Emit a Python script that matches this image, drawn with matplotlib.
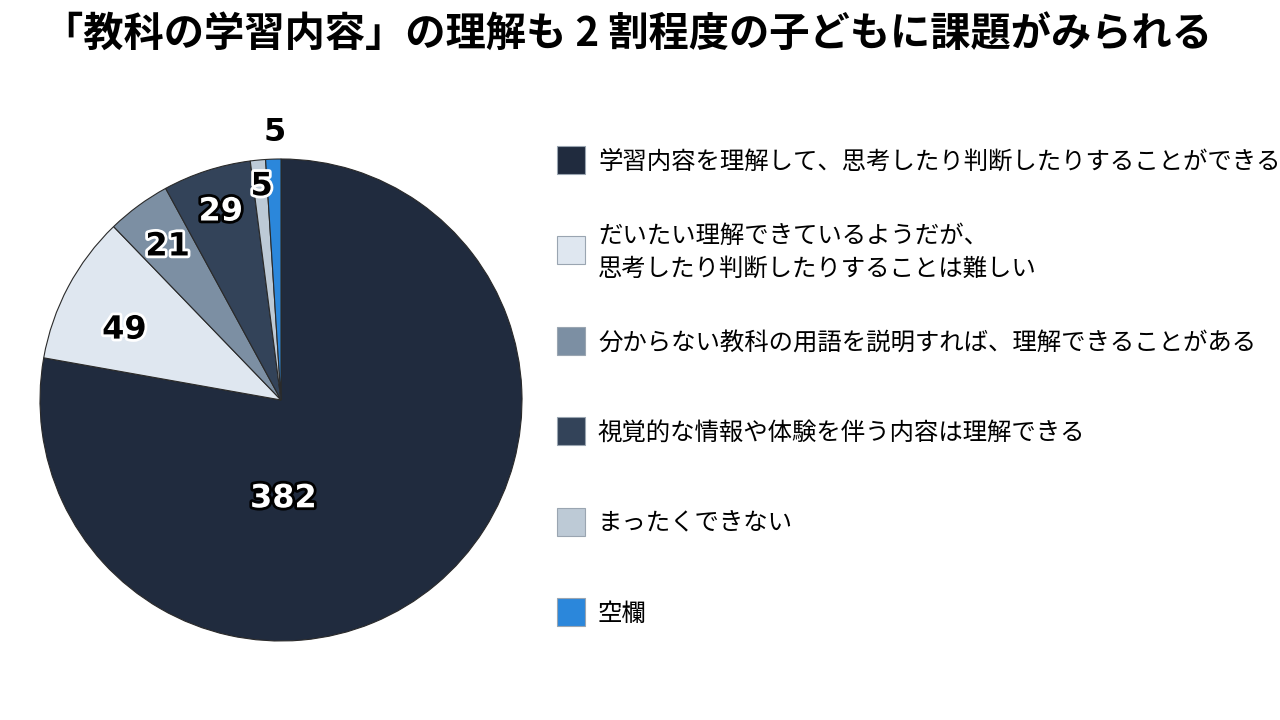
import matplotlib.pyplot as plt
import matplotlib.patheffects as pe
from matplotlib.patches import Rectangle

plt.rcParams['font.family'] = ['Noto Sans CJK JP', 'DejaVu Sans']

title = '「教科の学習内容」の理解も 2 割程度の子どもに課題がみられる'
categories = [
    '学習内容を理解して、思考したり判断したりすることができる',
    'だいたい理解できているようだが、\n思考したり判断したりすることは難しい',
    '分からない教科の用語を説明すれば、理解できることがある',
    '視覚的な情報や体験を伴う内容は理解できる',
    'まったくできない',
    '空欄',
]
values = [382, 49, 21, 29, 5, 5]
colors = ['#202b3e', '#dfe7f0', '#7c8fa3', '#334359', '#bdcad6', '#2b87db']

# label placement (axes data units, pie radius = 1) and text style
label_pos = [(0.01, -0.41), (-0.65, 0.29), (-0.47, 0.635), (-0.25, 0.78), (-0.08, 0.885), (-0.025, 1.11)]
label_fill = ['white', 'black', 'black', 'white', 'black', 'black']
label_edge = ['black', 'white', 'white', 'black', 'white', None]

fig = plt.figure(figsize=(12.8, 7.2), dpi=100)
fig.text(0.49, 0.953, title, ha='center', va='center', fontsize=29, fontweight='bold')

# pie: center (281,400) px, radius 241 px
ax = fig.add_axes([40 / 1280, 79 / 720, 482 / 1280, 482 / 720])
ax.pie(values, colors=colors, startangle=90, counterclock=False,
       wedgeprops=dict(edgecolor='#2a2a2a', linewidth=0.8))
ax.set_xlim(-1, 1)
ax.set_ylim(-1, 1)
ax.set_aspect('equal')
ax.axis('off')

for v, (x, y), fc, ec in zip(values, label_pos, label_fill, label_edge):
    t = ax.text(x, y, str(v), ha='center', va='center', fontsize=23,
                fontweight='bold', color=fc, family='DejaVu Sans', clip_on=False)
    if ec is not None:
        t.set_path_effects([pe.withStroke(linewidth=4, foreground=ec)])

# legend, drawn by hand so entries keep even spacing
y0 = 160
step = 90.4
for i, (lab, c) in enumerate(zip(categories, colors)):
    yc = y0 + i * step
    fig.patches.append(Rectangle((557 / 1280, 1 - (yc + 14) / 720), 28 / 1280, 28 / 720,
                                 transform=fig.transFigure, facecolor=c,
                                 edgecolor='#9aa5b1', linewidth=0.8))
    fig.text(598 / 1280, 1 - (yc + 2) / 720, lab, ha='left', va='center',
             fontsize=17.6, linespacing=1.3)

plt.savefig('out.png', dpi=100)
